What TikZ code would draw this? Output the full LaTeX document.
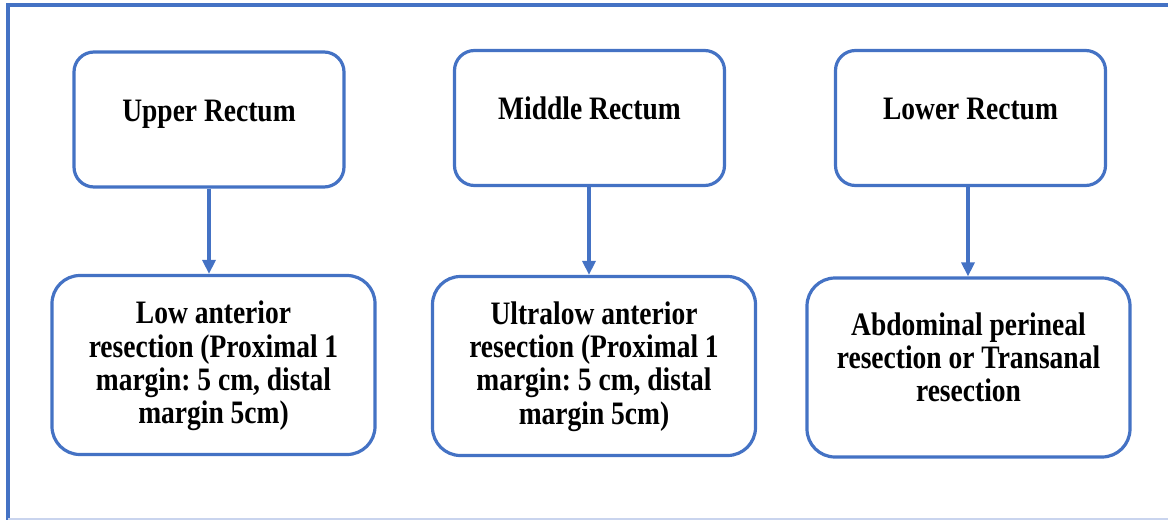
\documentclass[tikz,border=0pt]{standalone}
\usepackage{fontspec}
\usepackage{graphicx}
\setmainfont{Liberation Serif}
\usetikzlibrary{arrows.meta}
\definecolor{frameblue}{HTML}{4472C4}
\definecolor{paleblue}{HTML}{C9D4EE}
\frenchspacing
% bold, slightly tall lettering, stacked centred lines
\newcommand{\tallcaption}[1]{%
  \scalebox{1}[1.19]{\fontsize{27.5}{28}\selectfont\bfseries
    \renewcommand{\arraystretch}{1}%
    \begin{tabular}{@{}c@{}}#1\end{tabular}}}
\tikzset{
  site/.style={draw=frameblue, line width=3.2pt, rounded corners=20pt, fill=white,
    minimum width=270pt, minimum height=135pt, inner sep=0pt},
  surgery/.style={draw=frameblue, line width=3.2pt, rounded corners=28pt, fill=white,
    minimum width=323pt, minimum height=179pt, inner sep=0pt},
  caption/.style={inner sep=0pt},
  link/.style={draw=frameblue, line width=3.2pt,
    -{Triangle[length=14pt,width=13pt]}}
}
\begin{document}
\begin{tikzpicture}[x=1pt,y=-1pt]
\useasboundingbox (0,0) rectangle (1168,520);
% outer frame
\draw[frameblue, line width=3.2pt] (1168,5) -- (8,5) -- (8,520);
\draw[paleblue, line width=1.5pt] (8,519) -- (1168,519);

% rectum sections
\node[site] (upper) at (209,119.5) {};
\node[site] (middle) at (589.5,118) {};
\node[site] (lower) at (970.5,118) {};
\node[caption] (tupper) at (209,115) {\tallcaption{Upper Rectum}};
\node[caption] (tmiddle) at (589.5,112.5) {\tallcaption{Middle Rectum}};
\node[caption] (tlower) at (970.5,112.5) {\tallcaption{Lower Rectum}};

% procedures
\node[surgery] (lar) at (213.5,365) {};
\node[surgery] (ular) at (594,366) {};
\node[surgery] (apr) at (968.5,367.5) {};
\node[caption] (tlar) at (213.5,367)
  {\tallcaption{Low anterior\\resection (Proximal 1\\margin: 5 cm, distal\\margin 5cm)}};
\node[caption] (tular) at (594,367.5)
  {\tallcaption{Ultralow anterior\\resection (Proximal 1\\margin: 5 cm, distal\\margin 5cm)}};
\node[caption] (tapr) at (968.5,362)
  {\tallcaption{Abdominal perineal\\resection or Transanal\\resection}};

% connectors
\draw[link] (upper.south -| 209,0) -- (lar.north -| 209,0);
\draw[link] (middle.south -| 589,0) -- (ular.north -| 589,0);
\draw[link] (lower.south -| 968,0) -- (apr.north -| 968,0);
\end{tikzpicture}
\end{document}
